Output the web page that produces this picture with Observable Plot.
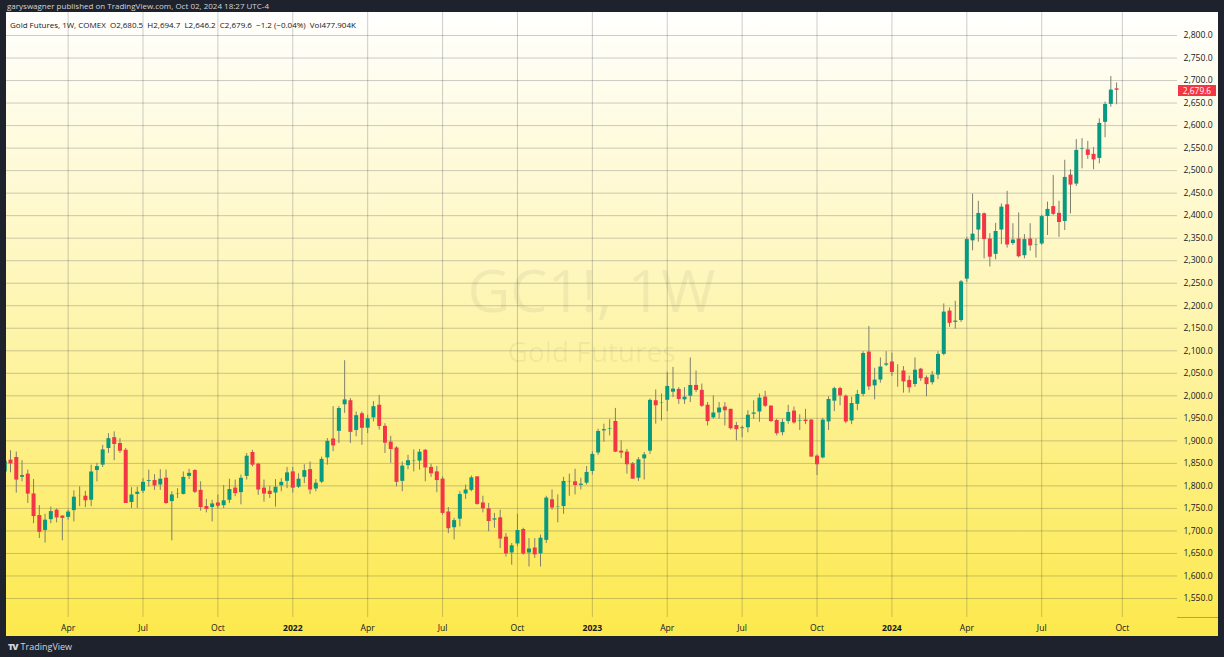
<!DOCTYPE html>
<html>
<head>
<meta charset="utf-8">
<script src="https://cdn.jsdelivr.net/npm/d3@7"></script>
<script src="https://cdn.jsdelivr.net/npm/@observablehq/plot@0.6"></script>
<style>
  html, body { margin: 0; padding: 0; width: 1224px; height: 657px; overflow: hidden; background: #1e222d; font-family: "Open Sans", sans-serif; }
  #pub { position: absolute; left: 7px; top: 0px; height: 12px; line-height: 12px; font-size: 8px; color: #d1d4dc; white-space: nowrap; }
  #panel { position: absolute; left: 6px; top: 12px; width: 1212px; height: 624px; overflow: hidden;
           background: linear-gradient(to bottom, #fffffe 0%, #fef7c0 40%, #fdee7a 75%, #fce94c 100%); }
  #legend { position: absolute; left: 4px; top: 7px; font-size: 8px; color: #131722; white-space: nowrap; z-index: 3; }
  .wm { position: absolute; width: 1171px; left: 0; text-align: center; color: rgba(60, 60, 60, 0.065); white-space: nowrap; }
  #wm1 { top: 237px; font-size: 59px; line-height: 80px; }
  #wm2 { top: 319px; font-size: 28px; line-height: 40px; }
  #chart { position: absolute; left: 0; top: 0; z-index: 2; }
  #price { position: absolute; left: 1172px; width: 38px; height: 11px; line-height: 11px; background: #f23645; color: #fff; font-size: 8.4px; text-align: center; z-index: 4; }
  #logo { position: absolute; left: 8px; top: 640px; font-size: 9px; color: #d1d4dc; white-space: nowrap; }
  #logo b { font-weight: 900; letter-spacing: -1px; margin-right: 3px; }
</style>
</head>
<body>
<div id="pub">garyswagner published on TradingView.com, Oct 02, 2024 18:27 UTC-4</div>
<div id="panel">
  <div class="wm" id="wm1">GC1!, 1W</div>
  <div class="wm" id="wm2">Gold Futures</div>
  <div id="legend">Gold Futures, 1W, COMEX&nbsp;&nbsp;O2,680.5&nbsp;&nbsp;H2,694.7&nbsp;&nbsp;L2,646.2&nbsp;&nbsp;C2,679.6&nbsp;&nbsp;−1.2 (−0.04%)&nbsp;&nbsp;Vol477.904K</div>
  <div id="chart"></div>
  <div id="price">2,679.6</div>
</div>
<div id="logo"><b>TV</b>TradingView</div>
<script>
// Weekly candles, GC1! (COMEX gold continuous), week of 2021-01-18 .. 2024-09-30
const opens = [
1830,1856,1862,1818,1825,1781,1733,1700,1724,1745,1732,1729,1744,1776,1776,1767,1833,1845,1882,1906,
1893,1878,1762,1780,1787,1809,1811,1801,1816,1764,1780,1780,1820,1833,1789,1753,1751,1761,1755,1767,
1794,1784,1820,1873,1847,1794,1787,1783,1799,1809,1830,1796,1818,1835,1792,1807,1861,1903,1920,1979,
1988,1922,1959,1927,1950,1978,1931,1896,1883,1809,1844,1854,1854,1878,1840,1830,1814,1741,1706,1725,
1781,1789,1819,1761,1748,1723,1728,1685,1650,1670,1702,1650,1661,1648,1678,1768,1752,1753,1808,1808,
1800,1805,1831,1872,1921,1926,1942,1876,1874,1848,1816,1859,1876,1988,1982,1989,2007,2013,1990,1998,
2022,2011,1978,1950,1961,1974,1969,1933,1926,1928,1958,1963,1996,1976,1944,1917,1942,1965,1944,1945,
1945,1865,1861,1941,1987,2015,1998,1943,1980,2002,2096,2021,2034,2067,2074,2053,2054,2033,2024,2058,
2039,2028,2045,2091,2187,2162,2166,2258,2343,2367,2403,2347,2313,2367,2423,2337,2347,2310,2347,2333,
2336,2397,2419,2404,2386,2489,2469,2548,2545,2535,2526,2606,2646,2680.5];
const highs = [
1872,1878,1875,1856,1835,1814,1756,1737,1753,1749,1733,1746,1789,1798,1788,1846,1850,1890,1916,1920,
1905,1883,1796,1797,1816,1835,1825,1836,1835,1787,1794,1831,1837,1836,1809,1770,1768,1780,1801,1815,
1813,1824,1872,1879,1850,1813,1799,1814,1816,1841,1841,1827,1847,1853,1814,1864,1905,1976,1976,2078,
1994,1964,1964,1957,1987,2001,1938,1910,1887,1853,1868,1880,1881,1881,1848,1843,1820,1752,1728,1787,
1802,1822,1820,1777,1761,1739,1746,1694,1672,1737,1706,1683,1683,1691,1777,1791,1780,1819,1826,1837,
1817,1843,1876,1926,1937,1947,1972,1900,1881,1852,1863,1874,1993,2013,2004,2052,2063,2018,2018,2084,
2055,2026,1985,2000,1985,1985,1970,1941,1933,1967,1989,2004,2010,1978,1948,1948,1979,1975,1958,1970,
1947,1869,1950,1998,2019,2019,2002,1997,2012,2098,2154,2061,2084,2098,2095,2069,2065,2044,2084,2061,
2044,2054,2098,2204,2195,2210,2256,2352,2448,2432,2406,2360,2383,2426,2454,2382,2406,2358,2382,2348,
2401,2430,2489,2432,2523,2502,2569,2571,2565,2551,2615,2652,2709,2694.7];
const lows = [
1826,1829,1784,1809,1761,1716,1683,1673,1716,1718,1678,1724,1720,1754,1752,1754,1809,1841,1872,1856,
1872,1761,1750,1750,1783,1798,1790,1790,1759,1678,1772,1780,1814,1783,1744,1740,1720,1750,1750,1761,
1776,1758,1813,1842,1779,1764,1772,1753,1787,1794,1784,1794,1805,1781,1787,1805,1846,1876,1894,1961,
1894,1909,1890,1916,1942,1924,1872,1850,1798,1787,1836,1831,1835,1809,1819,1785,1735,1694,1680,1709,
1770,1787,1757,1740,1698,1706,1661,1642,1624,1665,1646,1620,1639,1620,1672,1746,1718,1737,1777,1780,
1791,1802,1824,1868,1897,1911,1874,1861,1826,1815,1810,1813,1870,1937,1944,1965,1996,1981,1981,1985,
2007,1974,1933,1948,1948,1933,1924,1900,1907,1918,1948,1941,1974,1941,1911,1911,1937,1937,1923,1936,
1864,1823,1860,1923,1965,1978,1938,1936,1967,1998,2012,1991,2028,2065,2043,2019,2006,2006,2019,2032,
1998,2024,2036,2089,2152,2148,2163,2252,2322,2341,2304,2286,2302,2336,2328,2334,2306,2304,2321,2306,
2334,2356,2400,2352,2367,2404,2465,2504,2525,2502,2515,2573,2641,2646.2];
const closes = [
1856,1850,1814,1824,1783,1733,1698,1725,1744,1730,1729,1743,1776,1778,1768,1832,1844,1881,1906,1893,
1878,1762,1781,1787,1809,1813,1801,1816,1762,1781,1783,1820,1829,1787,1753,1749,1761,1756,1768,1793,
1784,1818,1867,1847,1792,1783,1782,1798,1809,1830,1796,1816,1835,1792,1807,1860,1900,1890,1973,1992,
1920,1957,1929,1950,1977,1933,1896,1882,1809,1845,1857,1857,1876,1841,1828,1813,1740,1706,1724,1782,
1792,1819,1760,1750,1722,1728,1683,1650,1668,1702,1650,1661,1648,1685,1774,1752,1755,1811,1811,1802,
1805,1831,1871,1922,1926,1927,1876,1874,1848,1816,1859,1870,1991,1979,1985,2022,2016,1993,1998,2024,
2013,1978,1944,1963,1974,1968,1928,1926,1930,1958,1963,1996,1978,1944,1917,1942,1964,1941,1945,1944,
1865,1848,1947,1993,2017,2001,1943,1984,2004,2095,2021,2036,2065,2072,2053,2055,2032,2019,2058,2039,
2026,2047,2093,2187,2162,2167,2254,2348,2360,2406,2348,2309,2366,2420,2336,2347,2310,2348,2334,2336,
2399,2415,2404,2386,2486,2469,2546,2549,2535,2525,2606,2648,2680,2679.6];

const priceTicks = [1550,1600,1650,1700,1750,1800,1850,1900,1950,2000,2050,2100,2150,2200,2250,2300,
                    2350,2400,2450,2500,2550,2600,2650,2700,2750,2800];
const monthTickDates = ["2021-04-05","2021-07-05","2021-10-04","2022-04-04","2022-07-04","2022-10-03",
                        "2023-04-03","2023-07-03","2023-10-02","2024-04-01","2024-07-01","2024-10-07"];
const monthTickLabels = ["Apr","Jul","Oct","Apr","Jul","Oct","Apr","Jul","Oct","Apr","Jul","Oct"];
const yearTickDates = ["2022-01-03","2023-01-02","2024-01-01"];
const yearTickLabels = ["2022","2023","2024"];

const upColor = "#089981", downColor = "#f23645", wickColor = "#7f7f6e";

const weeks = d3.utcMonday.range(new Date(Date.UTC(2021, 0, 18)), new Date(Date.UTC(2024, 9, 1)));
const rows = weeks.map((date, i) => ({date, open: opens[i], high: highs[i], low: lows[i], close: closes[i]}));

const monthTicks = monthTickDates.map(s => new Date(s + "T00:00:00Z"));
const yearTicks = yearTickDates.map(s => new Date(s + "T00:00:00Z"));
const labelMap = new Map();
monthTicks.forEach((d, i) => labelMap.set(+d, monthTickLabels[i]));
yearTicks.forEach((d, i) => labelMap.set(+d, yearTickLabels[i]));

const chart = Plot.plot({
  width: 1212,
  height: 624,
  marginTop: 0, marginBottom: 19, marginLeft: 0, marginRight: 41,
  style: {background: "transparent", fontFamily: "Open Sans, sans-serif", fontSize: "8.6px", color: "#131722", overflow: "visible"},
  x: {type: "utc", domain: [new Date(Date.UTC(2021, 0, 20, 3)), new Date(Date.UTC(2024, 11, 13))]},
  y: {domain: [1507.8, 2851.1]},
  marks: [
    Plot.gridY(priceTicks, {stroke: "#2a2e39", strokeOpacity: 0.24}),
    Plot.gridX([...monthTicks, ...yearTicks], {stroke: "#2a2e39", strokeOpacity: 0.24}),
    Plot.axisY(priceTicks, {anchor: "right", tickSize: 0, tickPadding: 6, label: null, tickFormat: d3.format(",.1f")}),
    Plot.axisX(monthTicks, {anchor: "bottom", tickSize: 0, tickPadding: 7, label: null, tickFormat: d => labelMap.get(+d)}),
    Plot.axisX(yearTicks, {anchor: "bottom", tickSize: 0, tickPadding: 7, label: null, fontWeight: "bold", tickFormat: d => labelMap.get(+d)}),
    Plot.ruleX(rows, {x: "date", y1: "low", y2: "high", stroke: wickColor, strokeWidth: 1, clip: true}),
    Plot.ruleX(rows, {x: "date", y1: "open", y2: "close", stroke: d => d.close >= d.open ? upColor : downColor,
                      strokeWidth: 4, insetTop: -0.5, insetBottom: -0.5, clip: true})
  ]
});
document.getElementById("chart").appendChild(chart);

// current price label, positioned through the y scale
const last = rows[rows.length - 1];
const py = chart.scale("y").apply(last.close);
document.getElementById("price").style.top = (py - 4.5) + "px";

// separator line of the time axis under the price scale
const svg = d3.select(chart);
svg.append("line").attr("x1", 1171).attr("x2", 1212).attr("y1", 605.5).attr("y2", 605.5)
   .attr("stroke", "#2a2e39").attr("stroke-opacity", 0.35);
</script>
</body>
</html>
